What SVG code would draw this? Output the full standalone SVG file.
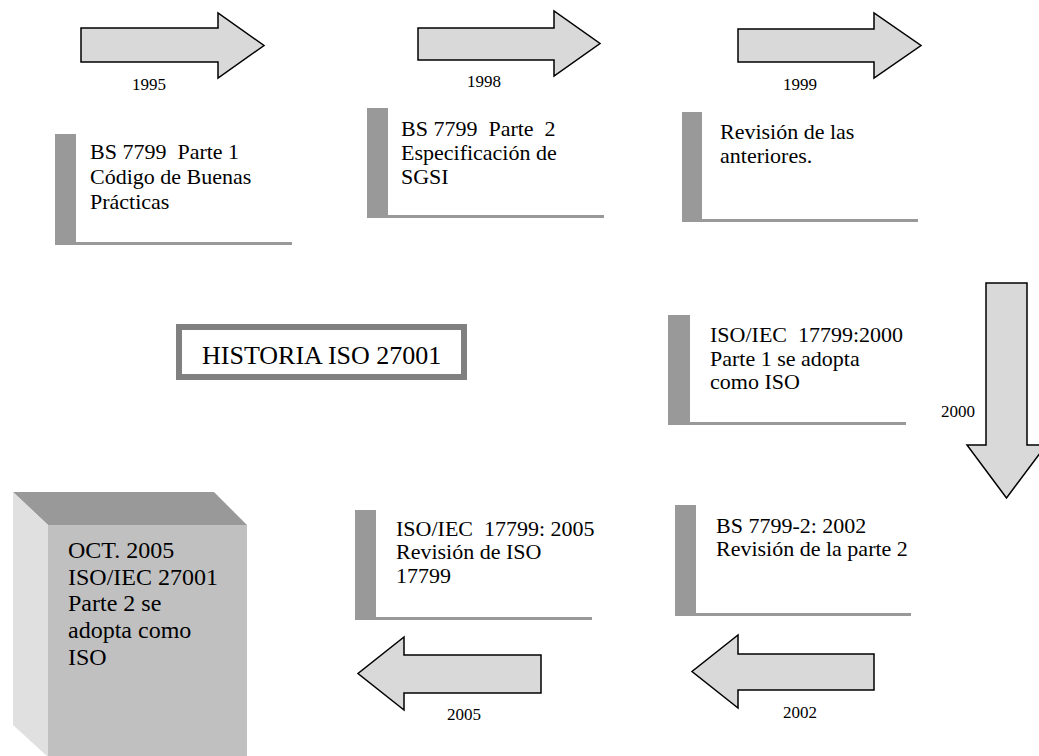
<svg xmlns="http://www.w3.org/2000/svg" width="1039" height="756" viewBox="0 0 1039 756">
<style>
.arrow{fill:#d9d9d9;stroke:#000;stroke-width:1.5;stroke-linejoin:miter}
.bar{fill:#999999}
.txt{font-family:"Liberation Serif","Times New Roman",serif;font-size:22px;fill:#000}
.yr{font-family:"Liberation Serif","Times New Roman",serif;font-size:17px;fill:#000}
.cube{font-family:"Liberation Serif","Times New Roman",serif;font-size:24px;fill:#000}
</style>
<rect width="1039" height="756" fill="#fff"/>
<g id="connectors">
<polygon class="arrow" points="81,28 218,28 218,13 264,45.5 218,78 218,62 81,62"/>
<polygon class="arrow" points="418,28 554,28 554,11 600,43.5 554,76 554,60 418,60"/>
<polygon class="arrow" points="738,29 874,29 874,13 921,45.5 874,78 874,62 738,62"/>
<polygon class="arrow" points="986,283 1027,283 1027,445 1046,445 1006.5,498 967,445 986,445"/>
<polygon class="arrow" points="874,654 738,654 738,635 692,671.5 738,708 738,690 874,690"/>
<polygon class="arrow" points="541,655 404,655 404,637 358,673.5 404,710 404,693 541,693"/>
<text class="yr" x="132" y="90">1995</text>
<text class="yr" x="467" y="87">1998</text>
<text class="yr" x="783" y="90">1999</text>
<text class="yr" x="941" y="417">2000</text>
<text class="yr" x="783" y="718">2002</text>
<text class="yr" x="447" y="720">2005</text>
</g>
<g id="n1995">
<rect class="bar" x="55" y="134" width="21" height="111"/>
<rect class="bar" x="76" y="242" width="216" height="3"/>
<text class="txt" x="90" y="159" xml:space="preserve">BS 7799  Parte 1</text>
<text class="txt" x="90" y="184">Código de Buenas</text>
<text class="txt" x="90" y="209">Prácticas</text>
</g>
<g id="n1998">
<rect class="bar" x="367" y="108" width="21" height="110"/>
<rect class="bar" x="388" y="215" width="216" height="3"/>
<text class="txt" x="401" y="136" xml:space="preserve">BS 7799  Parte  2</text>
<text class="txt" x="401" y="160">Especificación de</text>
<text class="txt" x="401" y="184">SGSI</text>
</g>
<g id="n1999">
<rect class="bar" x="682" y="112" width="20" height="110"/>
<rect class="bar" x="702" y="219" width="216" height="3"/>
<text class="txt" x="720" y="139">Revisión de las</text>
<text class="txt" x="720" y="163">anteriores.</text>
</g>
<g id="n2000">
<rect class="bar" x="668" y="315" width="22" height="110"/>
<rect class="bar" x="690" y="422" width="216" height="3"/>
<text class="txt" x="710" y="342" xml:space="preserve">ISO/IEC  17799:2000</text>
<text class="txt" x="710" y="366">Parte 1 se adopta</text>
<text class="txt" x="710" y="389">como ISO</text>
</g>
<g id="n2002">
<rect class="bar" x="675" y="505" width="21" height="111"/>
<rect class="bar" x="696" y="613" width="215" height="3"/>
<text class="txt" x="716" y="533">BS 7799-2: 2002</text>
<text class="txt" x="716" y="556">Revisión de la parte 2</text>
</g>
<g id="n2005">
<rect class="bar" x="355" y="510" width="21" height="110"/>
<rect class="bar" x="376" y="617" width="216" height="3"/>
<text class="txt" x="396" y="536" xml:space="preserve">ISO/IEC  17799: 2005</text>
<text class="txt" x="396" y="559">Revisión de ISO</text>
<text class="txt" x="396" y="583">17799</text>
</g>
<g id="title">
<rect x="179" y="327" width="285" height="50" fill="#fff" stroke="#808080" stroke-width="6"/>
<text x="202" y="364" font-family="Liberation Serif, Times New Roman, serif" font-size="26" fill="#000">HISTORIA ISO 27001</text>
</g>
<g id="oct2005">
<polygon points="13,492 214,492 247,525 48,525" fill="#999999"/>
<polygon points="13,492 48,525 48,757 13,725" fill="#e0e0e0"/>
<rect x="48" y="525" width="199" height="232" fill="#c0c0c0"/>
<text class="cube" x="68" y="558">OCT. 2005</text>
<text class="cube" x="68" y="585">ISO/IEC 27001</text>
<text class="cube" x="68" y="611">Parte 2 se</text>
<text class="cube" x="68" y="638">adopta como</text>
<text class="cube" x="68" y="665">ISO</text>
</g>
</svg>
